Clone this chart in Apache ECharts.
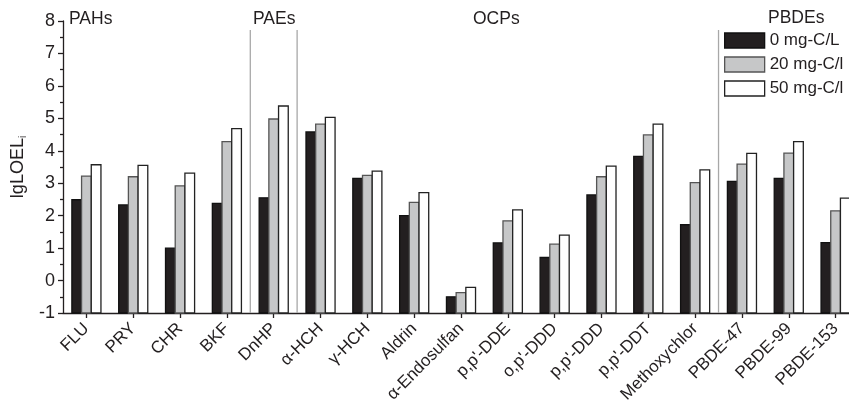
<!DOCTYPE html>
<html><head><meta charset="utf-8">
<script src="https://cdn.jsdelivr.net/npm/echarts@6/dist/echarts.min.js"></script>
<style>html,body{margin:0;padding:0;background:#fff}#c{width:849px;height:409px}</style>
</head><body><div id="c"></div>
<script>
const categories = ['FLU','PRY','CHR','BKF','DnHP','\u03b1-HCH','\u03b3-HCH','Aldrin','\u03b1-Endosulfan',"p,p'-DDE","o,p'-DDD","p,p'-DDD","p,p'-DDT",'Methoxychlor','PBDE-47','PBDE-99','PBDE-153'];
const seriesNames = ['0 mg-C/L','20 mg-C/l','50 mg-C/l'];
const vals0  = [2.49,2.33,1.00,2.38,2.55,4.58,3.15,2.00,-0.50,1.16,0.71,2.64,3.83,1.72,3.06,3.15,1.17];
const vals20 = [3.22,3.20,2.92,4.28,4.98,4.82,3.24,2.41,-0.37,1.84,1.12,3.20,4.49,3.02,3.59,3.93,2.15];
const vals50 = [3.57,3.55,3.31,4.68,5.38,5.03,3.37,2.71,-0.21,2.18,1.40,3.53,4.82,3.41,3.92,4.28,2.54];
const yTicks = [-1,0,1,2,3,4,5,6,7,8];
const separatorsAfter = ['BKF','DnHP','Methoxychlor'];
const groupLabels = ['PAHs','PAEs','OCPs','PBDEs'];

const FONT = '"Liberation Sans", Arial, Helvetica, sans-serif';
const styles = [
  {fill:'#231f20', stroke:'#111111'},
  {fill:'#c6c7c8', stroke:'#555555'},
  {fill:'#ffffff', stroke:'#222222'}
];
const allVals = [vals0, vals20, vals50];

function barSeries(k){
  return {
    type:'custom', name: seriesNames[k],
    itemStyle:{color: styles[k].fill, borderColor: styles[k].stroke, borderWidth:1.3},
    encode:{x:0,y:1},
    data: categories.map((c,i)=>[i, allVals[k][i]]),
    renderItem: function(params, api){
      const i = api.value(0), v = api.value(1);
      const band = api.size([1,0])[0];
      const bw = band*0.207;
      const top = api.coord([i, v]);
      const base = api.coord([i, yTicks[0]]);
      const x = top[0] + (k-1)*bw - bw/2;
      return {type:'rect', shape:{x:x, y:top[1], width:bw, height:base[1]-top[1]},
        style:{fill:styles[k].fill, stroke:styles[k].stroke, lineWidth:1.3}};
    }
  };
}

const sepSeries = {
  type:'custom', name:'sep', silent:true, encode:{x:0,y:1},
  data: separatorsAfter.map(n=>[categories.indexOf(n), yTicks[0]]),
  renderItem: function(params, api){
    const i = api.value(0);
    const band = api.size([1,0])[0];
    const base = api.coord([i, yTicks[0]]);
    const x = base[0] + band/2;
    const y0 = params.coordSys.y + 9;
    return {type:'line', shape:{x1:x, y1:y0, x2:x, y2:base[1]},
      style:{stroke:'#a8a8a8', lineWidth:1.3}};
  }
};

const chart = echarts.init(document.getElementById('c'), null, {renderer:'canvas'});
chart.setOption({
  animation:false,
  textStyle:{fontFamily:FONT},
  grid:{left:63, top:21, width:796, height:292, containLabel:false, outerBoundsMode:'none'},
  legend:{
    orient:'vertical', left:724, top:32, padding:0, itemWidth:40, itemHeight:15, itemGap:7,
    textStyle:{fontSize:17, color:'#231f20', fontFamily:FONT},
    data: seriesNames.map((n,k)=>({name:n, icon:'rect',
      itemStyle:{color:styles[k].fill, borderColor:styles[k].stroke, borderWidth:1.3}}))
  },
  xAxis:{
    type:'category', data:categories, boundaryGap:true,
    axisLine:{show:true, onZero:false, lineStyle:{color:'#231f20', width:1.3}},
    axisTick:{show:true, alignWithLabel:true, inside:false, length:5, lineStyle:{color:'#231f20', width:1.3}},
    axisLabel:{interval:0, rotate:45, fontSize:17, color:'#231f20', margin:13, fontFamily:FONT},
    splitLine:{show:false}
  },
  yAxis:{
    type:'value', min:yTicks[0], max:yTicks[yTicks.length-1], interval:1,
    name:'{a|lgLOEL}{b|i}', nameLocation:'middle', nameRotate:90, nameGap:32,
    nameTextStyle:{rich:{a:{fontSize:18, color:'#231f20', fontFamily:FONT},
      b:{fontSize:10, color:'#231f20', fontFamily:FONT, padding:[10,0,0,0]}}},
    axisLine:{show:true, lineStyle:{color:'#231f20', width:1.3}},
    axisTick:{show:true, inside:false, length:5, lineStyle:{color:'#231f20', width:1.3}},
    minorTick:{show:true, splitNumber:2, length:3, lineStyle:{color:'#231f20', width:1.3}},
    axisLabel:{fontSize:18, color:'#231f20', margin:8, fontFamily:FONT},
    splitLine:{show:false}
  },
  graphic:[
    {type:'text', left:69, top:10, style:{text:groupLabels[0], font:'17.5px '+FONT, fill:'#231f20'}},
    {type:'text', left:253, top:10, style:{text:groupLabels[1], font:'17.5px '+FONT, fill:'#231f20'}},
    {type:'text', left:473, top:10, style:{text:groupLabels[2], font:'17.5px '+FONT, fill:'#231f20'}},
    {type:'text', left:768, top:9, style:{text:groupLabels[3], font:'17.5px '+FONT, fill:'#231f20'}}
  ],
  series:[sepSeries, barSeries(0), barSeries(1), barSeries(2)]
});
</script></body></html>
